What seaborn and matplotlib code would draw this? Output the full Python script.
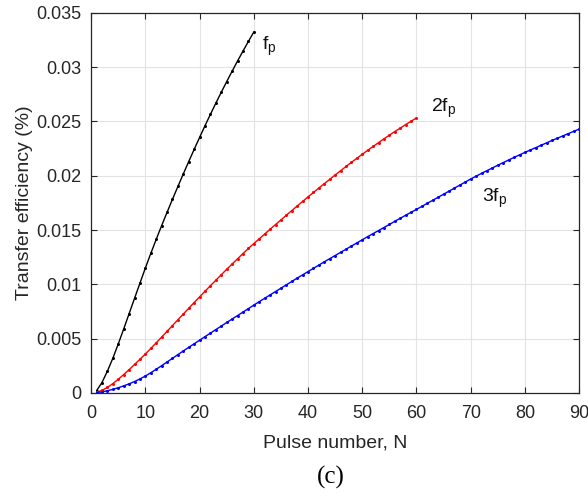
import matplotlib
matplotlib.use("Agg")
import matplotlib.pyplot as plt
import numpy as np
import pandas as pd
import seaborn as sns

# Transfer efficiency (%) versus pulse number for the three pump frequencies
n_fp = list(range(1, 31))
eff_fp = [0.00020, 0.00095, 0.00200, 0.00318, 0.00450, 0.00588, 0.00729, 0.00870, 0.01010, 0.01150,
          0.01284, 0.01414, 0.01540, 0.01663, 0.01783, 0.01901, 0.02017, 0.02131, 0.02243, 0.02353,
          0.02461, 0.02566, 0.02669, 0.02769, 0.02867, 0.02963, 0.03057, 0.03148, 0.03237, 0.03324]

n_2fp = list(range(1, 61))
eff_2fp = [0.00005, 0.00022, 0.00050, 0.00085, 0.00125, 0.00168, 0.00214, 0.00261, 0.00309, 0.00358,
           0.00409, 0.00461, 0.00514, 0.00567, 0.00620, 0.00673, 0.00726, 0.00779, 0.00832, 0.00884,
           0.00936, 0.00987, 0.01038, 0.01088, 0.01138, 0.01187, 0.01235, 0.01283, 0.01330, 0.01375,
           0.01419, 0.01463, 0.01507, 0.01550, 0.01593, 0.01636, 0.01679, 0.01721, 0.01763, 0.01805,
           0.01846, 0.01887, 0.01927, 0.01967, 0.02007, 0.02046, 0.02085, 0.02123, 0.02161, 0.02198,
           0.02234, 0.02270, 0.02305, 0.02340, 0.02374, 0.02407, 0.02439, 0.02471, 0.02502, 0.02532]

n_3fp = list(range(1, 91))
eff_3fp = [0.00002, 0.00009, 0.00019, 0.00032, 0.00047, 0.00064, 0.00083, 0.00104, 0.00128, 0.00155,
           0.00185, 0.00217, 0.00250, 0.00284, 0.00318, 0.00352, 0.00386, 0.00419, 0.00452, 0.00485,
           0.00518, 0.00550, 0.00583, 0.00615, 0.00648, 0.00680, 0.00712, 0.00744, 0.00776, 0.00808,
           0.00840, 0.00871, 0.00902, 0.00933, 0.00964, 0.00995, 0.01026, 0.01057, 0.01087, 0.01117,
           0.01147, 0.01177, 0.01207, 0.01236, 0.01265, 0.01294, 0.01323, 0.01352, 0.01381, 0.01410,
           0.01439, 0.01467, 0.01495, 0.01523, 0.01551, 0.01580, 0.01608, 0.01636, 0.01663, 0.01690,
           0.01718, 0.01746, 0.01774, 0.01802, 0.01830, 0.01858, 0.01886, 0.01914, 0.01942, 0.01970,
           0.01996, 0.02022, 0.02047, 0.02072, 0.02097, 0.02121, 0.02145, 0.02169, 0.02192, 0.02215,
           0.02237, 0.02259, 0.02281, 0.02303, 0.02325, 0.02346, 0.02367, 0.02388, 0.02409, 0.02430]

series_names = ["fp", "2fp", "3fp"]
series_labels = [r"f$_\mathregular{p}$", r"2f$_\mathregular{p}$", r"3f$_\mathregular{p}$"]
series_colors = ["#000000", "#ff0000", "#0000ff"]

x_ticks = [0, 10, 20, 30, 40, 50, 60, 70, 80, 90]
y_ticks = [0, 0.005, 0.01, 0.015, 0.02, 0.025, 0.03, 0.035]
y_tick_labels = ["0", "0.005", "0.01", "0.015", "0.02", "0.025", "0.03", "0.035"]

df = pd.concat([
    pd.DataFrame({"N": n_fp, "eff": eff_fp, "series": "fp"}),
    pd.DataFrame({"N": n_2fp, "eff": eff_2fp, "series": "2fp"}),
    pd.DataFrame({"N": n_3fp, "eff": eff_3fp, "series": "3fp"}),
], ignore_index=True)

sns.set_style("ticks")
plt.rcParams["font.family"] = ["Liberation Sans", "DejaVu Sans"]
plt.rcParams["mathtext.fontset"] = "custom"
plt.rcParams["mathtext.rm"] = "Liberation Sans"

fig = plt.figure(figsize=(5.88, 4.96), dpi=100)
ax = fig.add_axes([0.155, 0.208, 0.830, 0.766])

sns.lineplot(data=df, x="N", y="eff", hue="series", hue_order=series_names,
             palette=series_colors, marker="o", markersize=2.2, markeredgewidth=0,
             linewidth=1.0, legend=False, ax=ax, sort=True, errorbar=None)

ax.set_xlim(0, 90)
ax.set_ylim(0, 0.035)
ax.set_xticks(x_ticks)
ax.set_xticklabels([str(t) for t in x_ticks])
ax.set_yticks(y_ticks)
ax.set_yticklabels(y_tick_labels)
ax.grid(True, color="#e3e3e3", linewidth=0.8)
ax.set_axisbelow(True)
ax.tick_params(direction="in", length=4, width=0.8, top=True, right=True,
               labelsize=13, pad=7, color="#262626", labelcolor="#262626")
ax.tick_params(axis="x", pad=9)
for sp in ax.spines.values():
    sp.set_visible(True)
    sp.set_color("#262626")
    sp.set_linewidth(0.9)

ax.set_xlabel("Pulse number, N", fontsize=14, color="#262626", labelpad=9)
ax.set_ylabel("Transfer efficiency (%)", fontsize=14, color="#262626", labelpad=2)

# curve labels
label_pos = [(31.5, 0.0319), (62.7, 0.0262), (72.0, 0.0179)]
for (lx, ly), txt in zip(label_pos, series_labels):
    ax.text(lx, ly, txt, fontsize=14, color="#111111", va="center", ha="left")

fig.text(0.563, 0.038, "(c)", fontsize=18, family=["Liberation Serif"],
         ha="center", va="center", color="black")

fig.savefig("out.png", dpi=100)
